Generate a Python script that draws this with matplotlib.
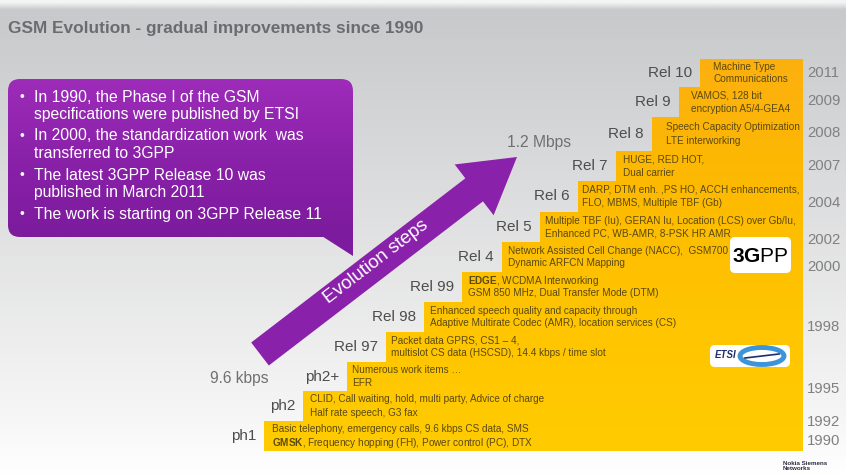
import numpy as np
import matplotlib.pyplot as plt
from matplotlib.patches import Polygon, FancyBboxPatch, FancyArrow, Ellipse, Arc
from matplotlib.colors import LinearSegmentedColormap

# --- data -------------------------------------------------------------
releases = ["ph1", "ph2", "ph2+", "Rel 97", "Rel 98", "Rel 99", "Rel 4",
            "Rel 5", "Rel 6", "Rel 7", "Rel 8", "Rel 9", "Rel 10"]
features_1 = ["Basic telephony, emergency calls, 9.6 kbps CS data, SMS",
              "CLID, Call waiting, hold, multi party, Advice of charge",
              "Numerous work items \u2026",
              "Packet data GPRS, CS1 \u2013 4,",
              "Enhanced speech quality and capacity through",
              r"$\mathbf{EDGE}$, WCDMA Interworking",
              "Network Assisted Cell Change (NACC),  GSM700",
              "Multiple TBF (Iu), GERAN Iu, Location (LCS) over Gb/Iu,",
              "DARP, DTM enh. ,PS HO, ACCH enhancements,",
              "HUGE, RED HOT,",
              "Speech Capacity Optimization",
              "VAMOS, 128 bit",
              "Machine Type"]
features_2 = [r"$\mathbf{GMSK}$, Frequency hopping (FH), Power control (PC), DTX",
              "Half rate speech, G3 fax",
              "EFR",
              "multislot CS data (HSCSD), 14.4 kbps / time slot",
              "Adaptive Multirate Codec (AMR), location services (CS)",
              "GSM 850 MHz, Dual Transfer Mode (DTM)",
              "Dynamic ARFCN Mapping",
              "Enhanced PC, WB-AMR, 8-PSK HR AMR",
              "FLO, MBMS, Multiple TBF (Gb)",
              "Dual carrier",
              "LTE interworking",
              "encryption A5/4-GEA4",
              "Communications"]
years = ["1990", "1992", "1995", "1998", "2000", "2002", "2004", "2007", "2008", "2009", "2011"]
bullets = [("In 1990, the Phase I of the GSM", "specifications were published by ETSI"),
           ("In 2000, the standardization work  was", "transferred to 3GPP"),
           ("The latest 3GPP Release 10 was", "published in March 2011"),
           ("The work is starting on 3GPP Release 11", None)]
title = "GSM Evolution - gradual improvements since 1990"

# --- layout (pixels of the 846x476 slide) ------------------------------
step_left = [264, 303, 347, 386, 424, 462, 502, 540, 578, 616, 652, 679, 700]
step_top = [421, 391, 362, 332, 302, 272, 242, 212, 181, 151, 117, 87, 59]
step_right, step_bottom = 803, 451
text_pad = [8, 7, 5, 5, 6, 6, 6, 5, 4, 7, 14, 12, 13]
year_y = [441, 422, 389, 327, 267, 240, 203, 166, 133, 101, 73]

plt.rcParams["font.family"] = ["Liberation Sans", "DejaVu Sans"]
plt.rcParams["mathtext.fontset"] = "custom"
plt.rcParams["mathtext.bf"] = "Liberation Sans:bold"
plt.rcParams["mathtext.rm"] = "Liberation Sans"

fig = plt.figure(figsize=(8.46, 4.76), dpi=100)
ax = fig.add_axes([0, 0, 1, 1])
ax.set_xlim(0, 846)
ax.set_ylim(476, 0)
ax.axis("off")

# background gradient
bg = LinearSegmentedColormap.from_list("bg", [(0, "#f4f4f4"), (0.018, "#c8c9cb"),
                                              (0.88, "#f6f6f6"), (1, "#ffffff")])
ax.imshow(np.linspace(0, 1, 300).reshape(-1, 1), cmap=bg, aspect="auto",
          extent=(0, 846, 476, 0), zorder=0)

ax.text(8, 29, title, fontsize=12.4, fontweight="bold", color="#6b6c6f",
        va="center", ha="left")

# staircase
verts = [(step_left[0], step_bottom)]
for i, (x, y) in enumerate(zip(step_left, step_top)):
    verts.append((x, y))
    nx = step_left[i + 1] if i + 1 < len(step_left) else step_right
    verts.append((nx, y))
verts.append((step_right, step_bottom))
stairs = Polygon(verts, closed=True, facecolor="none", edgecolor="none")
ax.add_patch(stairs)
orng = LinearSegmentedColormap.from_list("or", ["#fcb00f", "#fdba00", "#ffc500", "#ffcb00"])
im = ax.imshow(np.linspace(0, 1, 200).reshape(-1, 1), cmap=orng, aspect="auto",
               extent=(250, step_right, step_bottom, step_top[-1]), zorder=1)
im.set_clip_path(stairs)

prev = step_bottom
for i, rel in enumerate(releases):
    top = step_top[i]
    yc = (top + prev) / 2
    ax.text(step_left[i] - 8, yc, rel, fontsize=11, color="#4d4d4d",
            ha="right", va="center", zorder=3)
    tx = step_left[i] + text_pad[i]
    ax.text(tx, yc - 6.5, features_1[i], fontsize=7.2, color="#5b4a10",
            ha="left", va="center", zorder=3)
    ax.text(tx, yc + 6.5, features_2[i], fontsize=7.2, color="#5b4a10",
            ha="left", va="center", zorder=3)
    prev = top

for yr, y in zip(years, year_y):
    ax.text(807, y, yr, fontsize=10.7, color="#808080", ha="left", va="center", zorder=3)

# purple call-out
box = FancyBboxPatch((14, 85), 333, 146, boxstyle="round,pad=6,rounding_size=12",
                     facecolor="none", edgecolor="none", zorder=2)
ax.add_patch(box)
purp = LinearSegmentedColormap.from_list("pu", ["#9d2cb9", "#8a21a9", "#7c1b9d"])
bim = ax.imshow(np.linspace(0, 1, 100).reshape(-1, 1), cmap=purp, aspect="auto",
                extent=(8, 353, 237, 79), zorder=2)
bim.set_clip_path(box)
ax.add_patch(Polygon([(314, 231), (353, 225), (353, 256)], closed=True,
                     facecolor="#7c1b9d", edgecolor="none", zorder=2))

y = 97
for first, second in bullets:
    ax.text(19, y, "\u2022", fontsize=10, color="white", va="center", ha="left", zorder=3)
    ax.text(34, y, first, fontsize=11.3, color="white", va="center", ha="left", zorder=3)
    if second:
        ax.text(34, y + 17, second, fontsize=11.3, color="white", va="center", ha="left", zorder=3)
        y += 39
    else:
        y += 22

# evolution arrow
tail = np.array([260.0, 354.0])
tip = np.array([517.0, 157.0])
ax.add_patch(FancyArrow(tail[0], tail[1], *(tip - tail), width=29, head_width=64,
                        head_length=54, length_includes_head=True,
                        facecolor="#8a21aa", edgecolor="none", zorder=2))
ang = np.degrees(np.arctan2(tip[1] - tail[1], tip[0] - tail[0]))
ax.text(376, 262, "Evolution steps", fontsize=13.5, color="white", rotation=-ang,
        rotation_mode="anchor", ha="center", va="center", zorder=3)

ax.text(210, 378, "9.6 kbps", fontsize=11.2, color="#707070", ha="left", va="center")
ax.text(507, 143, "1.2 Mbps", fontsize=11.3, color="#707070", ha="left", va="center")

# logos
ax.add_patch(FancyBboxPatch((733, 240), 55, 30, boxstyle="round,pad=3,rounding_size=5",
                            facecolor="white", edgecolor="none", zorder=3))
ax.text(760, 256, r"$\mathbf{3G}$PP", fontsize=15, color="black", ha="center",
        va="center", zorder=4)
ax.add_patch(FancyBboxPatch((713, 348), 74, 16, boxstyle="round,pad=3,rounding_size=5",
                            facecolor="white", edgecolor="none", zorder=3))
ax.text(715, 355, "ETSI", fontsize=7, fontweight="bold", style="italic",
        color="#1f2f6b", ha="left", va="center", zorder=4)
ax.add_patch(Ellipse((762, 356), 44, 17, facecolor="none", edgecolor="#3d94d8",
                     lw=3.5, zorder=4))
ax.plot([745, 779], [358, 354], color="#1f2f6b", lw=1.2, zorder=5)

ax.text(783, 466, "Nokia Siemens\nNetworks", fontsize=4.5, fontweight="bold",
        color="#2b2b40", ha="left", va="center", linespacing=0.9)
ax.add_patch(Arc((880, 500), 80, 80, theta1=180, theta2=235, color="#f5a800", lw=2))

fig.savefig("out.png", dpi=100)
